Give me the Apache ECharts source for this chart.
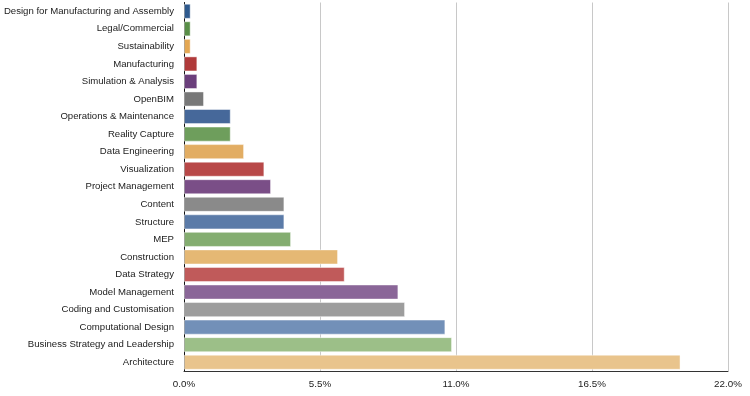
<!DOCTYPE html>
<html>
<head>
<meta charset="utf-8">
<script src="https://cdn.jsdelivr.net/npm/echarts@6/dist/echarts.min.js"></script>
<style>html,body{margin:0;padding:0;background:#fff}#c{width:750px;height:396px}</style>
</head>
<body>
<div id="c"></div>
<script>
const categories = [
  "Design for Manufacturing and Assembly","Legal/Commercial","Sustainability","Manufacturing",
  "Simulation & Analysis","OpenBIM","Operations & Maintenance","Reality Capture","Data Engineering",
  "Visualization","Project Management","Content","Structure","MEP","Construction","Data Strategy",
  "Model Management","Coding and Customisation","Computational Design",
  "Business Strategy and Leadership","Architecture"
];
const values = [0.27,0.27,0.27,0.54,0.54,0.81,1.89,1.89,2.43,3.25,3.52,4.06,4.06,4.33,6.23,6.5,8.67,8.94,10.57,10.84,20.08];
const xTicks = [0, 5.5, 11, 16.5, 22];

const palette = ["#2f5a8e","#5a8f48","#e4a752","#b03a3a","#6b3f7c","#787878",
  "#46689a","#6e9e5c","#e2ad63","#b84848","#7a4e87","#8a8a8a",
  "#5b7ba8","#84ad70","#e5b874","#c05a5a","#8a6698","#9d9d9d",
  "#7290b8","#9cbf88","#e9c48c"];

const chart = echarts.init(document.getElementById('c'), null, {renderer:'canvas'});
chart.setOption({
  animation: false,
  backgroundColor: '#fff',
  grid: {left: 184, right: 22, top: 2.5, bottom: 25, containLabel: false, outerBoundsMode: 'none'},
  xAxis: {
    type: 'value', min: xTicks[0], max: xTicks[xTicks.length-1], interval: 5.5,
    axisLine: {show: true, lineStyle: {color: '#333', width: 1}},
    axisTick: {show: false},
    splitLine: {show: true, lineStyle: {color: '#c8c8c8', width: 1}},
    axisLabel: {color: '#222', fontSize: 9.8, fontFamily: 'Liberation Sans, Arial, sans-serif', margin: 8,
      formatter: v => v.toFixed(1) + '%'}
  },
  yAxis: {
    type: 'category', data: categories, inverse: true,
    axisLine: {show: true, lineStyle: {color: '#111', width: 1}},
    axisTick: {show: false},
    axisLabel: {color: '#222', fontSize: 9.6, fontFamily: 'Liberation Sans, Arial, sans-serif', margin: 10}
  },
  series: [{
    type: 'bar',
    data: values.map((v, i) => ({value: v, itemStyle: {color: palette[i]}})),
    barCategoryGap: '14%',
    itemStyle: {borderColor: 'rgba(255,255,255,0.45)', borderWidth: 1}
  }]
});
</script>
</body>
</html>
